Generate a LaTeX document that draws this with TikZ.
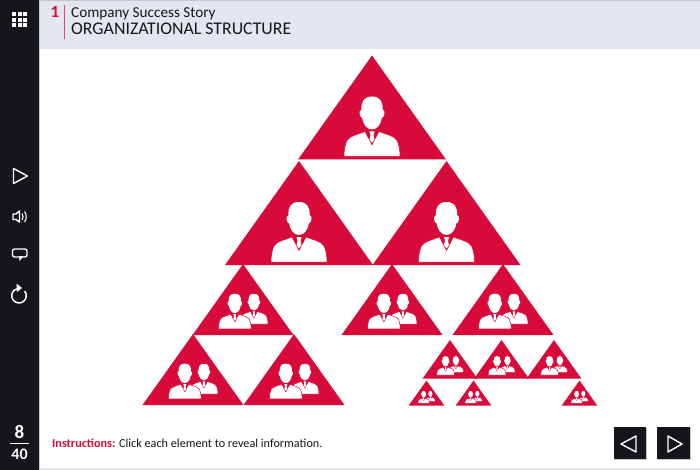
\documentclass[tikz,border=0pt]{standalone}
\usepackage{fontspec}
\setmainfont{Carlito}
\definecolor{crimson}{HTML}{D70A3A}
\definecolor{barblack}{HTML}{14161C}
\definecolor{headgrey}{HTML}{E3E6EC}
\definecolor{edgegrey}{HTML}{C4C7CD}
\definecolor{inktext}{HTML}{14161C}
\newcommand{\manshape}{
    \fill[white] (0,-60) .. controls (-8,-60) and (-11,-55) .. (-10.5,-47)
        .. controls (-12.5,-47) and (-13,-44) .. (-12,-41)
        .. controls (-11.5,-39) and (-10.5,-39) .. (-10,-39)
        .. controls (-9,-32) and (-5,-27) .. (0,-27)
        .. controls (5,-27) and (9,-32) .. (10,-39)
        .. controls (10.5,-39) and (11.5,-39) .. (12,-41)
        .. controls (13,-44) and (12.5,-47) .. (10.5,-47)
        .. controls (11,-55) and (8,-60) .. (0,-60) -- cycle;
    \filldraw[fill=white, draw=crimson, line width=.5pt] (-7,-25) .. controls (-14,-22) and (-22,-21) .. (-25,-16)
        .. controls (-27,-12) and (-28,-6) .. (-28,0) -- (28,0)
        .. controls (28,-6) and (27,-12) .. (25,-16)
        .. controls (22,-21) and (14,-22) .. (7,-25) -- cycle;
    \fill[crimson] (-7.5,-25.5) -- (0,-11) -- (7.5,-25.5) -- cycle;
    \fill[white] (-2.5,-25) -- (2.5,-25) -- (1.5,-21) -- (2.5,-17) -- (0,-13.5) -- (-2.5,-17) -- (-1.5,-21) -- cycle;
}
\begin{document}
\begin{tikzpicture}[x=1pt,y=-1pt,
    icon/.style={draw=white, line width=1.4pt, line join=round},
    btn/.style={fill=barblack, draw=none},
    label/.style={inner sep=0pt, anchor=base west, text=inktext},
    singletri/.pic={
        \fill[crimson] (-74,0) -- (0,-104) -- (74,0) -- cycle;
        \begin{scope}[shift={(0,-3)}]\manshape\end{scope}
    },
    grouptri/.pic={
        \fill[crimson] (-74,0) -- (0,-104) -- (74,0) -- cycle;
        \begin{scope}[shift={(16,-16)},scale=.74]\manshape\end{scope}
        \begin{scope}[shift={(-12,-9)},scale=.86]\manshape\end{scope}
    }]
    \useasboundingbox (0,0) rectangle (700,470);
    \fill[white] (0,0) rectangle (700,470);
    \fill[headgrey] (40,0) rectangle (700,49.5);
    \fill[edgegrey] (40,0) rectangle (700,1);
    \fill[headgrey] (40,468) rectangle (700,470);
    \fill[barblack] (0,0) rectangle (39,470);
    \fill[edgegrey] (39,0) rectangle (40,470);

    \foreach \i in {0,1,2}
        \foreach \j in {0,1,2}
            \fill[white] (12+5.6*\i,12+5.6*\j) rectangle ++(4,4);

    \node[inner sep=0pt, anchor=base, text=crimson, font=\bfseries\fontsize{17}{17}\selectfont] (chapter) at (55,18) {1};
    \draw[crimson!75, line width=.8pt] (64,5) -- (64,39);
    \node[label, font=\fontsize{15.2}{15.2}\selectfont] (course) at (71,18) {Company Success Story};
    \node[label, font=\fontsize{17.8}{17.8}\selectfont] (title) at (71,35) {ORGANIZATIONAL STRUCTURE};

    \draw[icon] (13.5,168.5) -- (27.5,176) -- (13.5,183.5) -- cycle;
    \draw[icon] (13,214) -- (16,214) -- (19.5,211) -- (19.5,222) -- (16,219.5) -- (13,219.5) -- cycle;
    \draw[icon, line width=1.1pt] (22,213.5) to[bend left=35] (22,220);
    \draw[icon, line width=1.1pt] (24.5,211.5) to[bend left=35] (24.5,222);
    \draw[icon, rounded corners=2pt] (12.5,249) rectangle (27,257);
    \fill[white] (19,256) -- (19.5,261) -- (23.5,256) -- cycle;
    \draw[white, line width=1.5pt] (24.6,291) arc[start angle=-40, end angle=262, radius=7.3];
    \fill[white] (16.5,283.5) -- (22,288) -- (17,292) -- cycle;

    \node[inner sep=0pt, text=white, font=\bfseries\fontsize{19}{19}\selectfont] (page) at (19.5,432) {8};
    \draw[white, line width=.8pt] (10,443.5) -- (29,443.5);
    \node[inner sep=0pt, text=white, font=\bfseries\fontsize{16}{16}\selectfont] (total) at (19.5,454.5) {40};

    \pic at (372,159.5) {singletri};
    \pic at (299,265) {singletri};
    \pic at (446.5,265) {singletri};

    \pic[scale=.682] at (243,335) {grouptri};
    \pic[scale=.682] at (193,405) {grouptri};
    \pic[scale=.682] at (294,405) {grouptri};
    \pic[scale=.682] at (392,335) {grouptri};
    \pic[scale=.682] at (503,335) {grouptri};

    \pic[scale=.37] at (450,378.5) {grouptri};
    \pic[scale=.37] at (501.5,378.5) {grouptri};
    \pic[scale=.37] at (554,378.5) {grouptri};
    \pic[scale=.24] at (426.5,405.5) {grouptri};
    \pic[scale=.24] at (473.5,405.5) {grouptri};
    \pic[scale=.24] at (579.5,405.5) {grouptri};

    \node[inner sep=0pt, anchor=base west, text=inktext, font=\fontsize{12.2}{12.2}\selectfont] (note) at (52,447) {\textcolor{crimson}{\bfseries Instructions:} Click each element to reveal information.};

    \fill[edgegrey] (615,428) rectangle (647,460);
    \fill[edgegrey] (658,428) rectangle (691,460);
    \fill[btn] (614,427) rectangle (646,459);
    \fill[btn] (657,427) rectangle (690,459);
    \draw[icon] (636,436) -- (621,444) -- (636,452) -- cycle;
    \draw[icon] (668,436) -- (682,444) -- (668,452) -- cycle;
\end{tikzpicture}
\end{document}
